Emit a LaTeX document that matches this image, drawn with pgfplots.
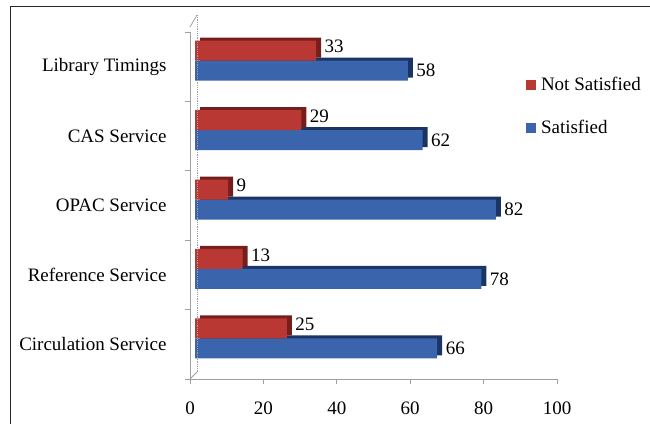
\documentclass[border=0pt]{standalone}
\usepackage{pgfplots}
\pgfplotsset{compat=1.18}
\usepackage{fontspec}
\setmainfont{Liberation Serif}
\definecolor{redF}{RGB}{185,56,52}
\definecolor{redD}{RGB}{118,30,28}
\definecolor{blueF}{RGB}{58,100,172}
\definecolor{blueD}{RGB}{28,52,100}
\begin{document}
\begin{tikzpicture}
\draw[black!85, line width=1pt] (10pt,-20pt) rectangle (700pt,416pt);
\begin{axis}[
  at={(190pt,44pt)}, anchor=south west,
  scale only axis, width=367pt, height=347pt,
  xmin=0, xmax=100, ymin=-0.5, ymax=4.5,
  xbar, bar width=20pt, clip=false,
  axis lines*=left,
  axis line style={gray!75, line width=1pt},
  xtick={0,20,...,100},
  ytick={0,...,4},
  yticklabels={Circulation Service, Reference Service, OPAC Service, CAS Service, Library Timings},
  minor ytick={-0.5,0.5,...,4.5},
  major y tick style={draw=none},
  tick align=outside,
  tick style={gray!75, line width=0.8pt},
  major tick length=5pt, minor tick length=5pt,
  tick label style={font=\rmfamily\fontsize{19}{22}\selectfont},
  yticklabel style={xshift=-15pt},
  xticklabel style={yshift=-14pt},
  /pgf/number format/assume math mode=true,
  legend image code/.code={\fill[#1] (0pt,-5pt) rectangle (10pt,5pt);},
  legend style={at={(0.915,0.875)}, anchor=north west, draw=none, fill=none,
    inner sep=0pt, font=\rmfamily\fontsize{19}{22}\selectfont, row sep=24pt,
    column sep=3pt, nodes={inner sep=2pt}},
  legend cell align=left,
]
\addplot[forget plot, fill=blueD, draw=none, bar shift=-4pt, xshift=10pt, yshift=3pt]
  coordinates {(66,0) (78,1) (82,2) (62,3) (58,4)};
\addplot[forget plot, fill=blueF, draw=none, bar shift=-4pt, xshift=5pt,
  nodes near coords, nodes near coords style={font=\rmfamily\fontsize{19}{22}\selectfont, text=black, xshift=5pt},
  /pgf/number format/assume math mode=true]
  coordinates {(66,0) (78,1) (82,2) (62,3) (58,4)};
\addplot[forget plot, fill=redD, draw=none, bar shift=16pt, xshift=10pt, yshift=3pt]
  coordinates {(25,0) (13,1) (9,2) (29,3) (33,4)};
\addplot[forget plot, fill=redF, draw=none, bar shift=16pt, xshift=5pt,
  nodes near coords, nodes near coords style={font=\rmfamily\fontsize{19}{22}\selectfont, text=black, xshift=5pt, yshift=4pt},
  /pgf/number format/assume math mode=true]
  coordinates {(25,0) (13,1) (9,2) (29,3) (33,4)};
\addlegendimage{fill=redF, draw=none}
\addlegendentry{Not Satisfied}
\addlegendimage{fill=blueF, draw=none}
\addlegendentry{Satisfied}
\end{axis}
\draw[gray!75, line width=0.8pt] (190pt,396pt) -- (197pt,408pt);
\draw[gray!75, line width=0.8pt, densely dotted] (197pt,408pt) -- (197pt,51pt);
\draw[gray!75, line width=0.8pt] (190pt,44pt) -- (197pt,51pt);
\pgfresetboundingbox
\useasboundingbox (0pt,0pt) rectangle (650pt,423pt);
\end{tikzpicture}
\end{document}
